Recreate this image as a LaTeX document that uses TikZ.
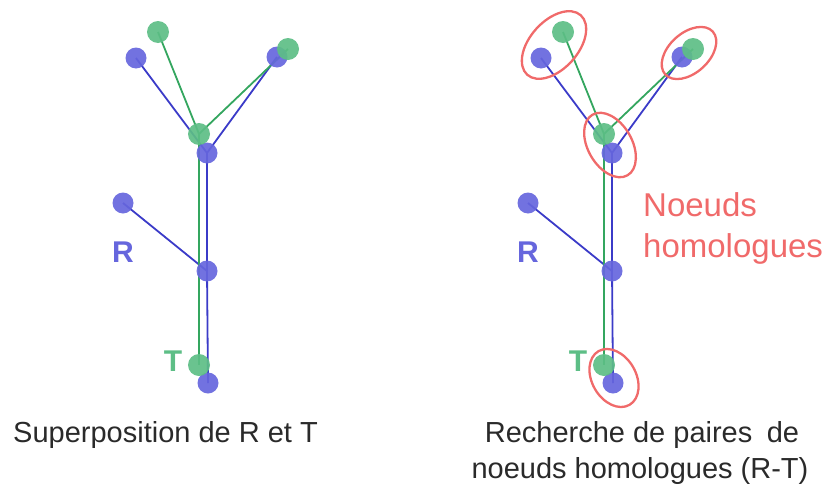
\documentclass[tikz,border=0pt]{standalone}
\usepackage{fontspec}
\setmainfont{Liberation Sans}
\usetikzlibrary{backgrounds}
\definecolor{bfill}{HTML}{6666DD}
\definecolor{bline}{HTML}{3B3BC8}
\definecolor{gfill}{HTML}{5DBE86}
\definecolor{gline}{HTML}{34A65F}
\definecolor{redc}{HTML}{F06A6A}
\definecolor{capc}{HTML}{2A2A2A}
\tikzset{
  bnode/.style={circle,fill=bfill,fill opacity=0.92,inner sep=0pt,minimum size=21pt},
  gnode/.style={circle,fill=gfill,fill opacity=0.92,inner sep=0pt,minimum size=22pt},
  bedge/.style={draw=bline,line width=1.8pt},
  gedge/.style={draw=gline,line width=1.8pt},
  pairring/.style={draw=redc,line width=2.3pt},
  lblR/.style={text=bfill,font=\fontsize{30}{36}\selectfont\bfseries,inner sep=0pt,anchor=base},
  lblT/.style={text=gfill,font=\fontsize{30}{36}\selectfont\bfseries,inner sep=0pt,anchor=base},
  capt/.style={text=capc,font=\fontsize{29}{35}\selectfont,inner sep=0pt},
  redtxt/.style={text=redc,font=\fontsize{33}{40}\selectfont,inner sep=0pt,anchor=base west}
}
\newcommand\rtdrawtree[2]{%
\begin{scope}[xshift=#2]
  % blue tree R
  \node[bnode] (#1b1) at (136,58) {};
  \node[bnode] (#1b2) at (277,57) {};
  \node[bnode] (#1bj) at (207,153) {};
  \node[bnode] (#1b4) at (123,203) {};
  \node[bnode] (#1b5) at (207,271) {};
  \node[bnode] (#1b6) at (208,383) {};
  % green tree T
  \node[gnode] (#1g1) at (158,32) {};
  \node[gnode] (#1g2) at (288,49) {};
  \node[gnode] (#1gj) at (199,134) {};
  \node[gnode] (#1g6) at (199,365) {};
  \begin{scope}[on background layer]
    \draw[bedge] (#1bj.center) -- (#1b1.center);
    \draw[bedge] (#1bj.center) -- (#1b2.center);
    \draw[bedge] (#1bj.center) -- (#1b5.center);
    \draw[bedge] (#1b5.center) -- (#1b4.center);
    \draw[bedge] (#1b5.center) -- (#1b6.center);
    \draw[gedge] (#1gj.center) -- (#1g1.center);
    \draw[gedge] (#1gj.center) -- (#1g2.center);
    \draw[gedge] (#1gj.center) -- (#1g6.center);
  \end{scope}
  \node[lblR] (#1R) at (123,262) {R};
  \node[lblT] (#1T) at (173,371) {T};
\end{scope}}
\begin{document}
\begin{tikzpicture}[x=1pt,y=-1pt]
\useasboundingbox (0,0) rectangle (830,490);
\rtdrawtree{L}{0}
\rtdrawtree{R}{405}
% homologous pairs
\draw[pairring,rotate around={48:(554,45)}] (554,45) ellipse [x radius=40,y radius=24];
\draw[pairring,rotate around={42:(689,53)}] (689,53) ellipse [x radius=32,y radius=20];
\draw[pairring,rotate around={-60:(610,145)}] (610,145) ellipse [x radius=35,y radius=22];
\draw[pairring,rotate around={-60:(614,378)}] (614,378) ellipse [x radius=31,y radius=22];
\node[redtxt] (n1) at (643,216) {Noeuds};
\node[redtxt] (n2) at (643,257) {homologues};
% captions
\node[capt,anchor=base west] (c1) at (13,442) {Superposition de R et T};
\node[capt,anchor=base] (c2) at (642,442) {Recherche de paires\hspace{0.5em}de};
\node[capt,anchor=base] (c3) at (640,478) {noeuds homologues (R-T)};
\end{tikzpicture}
\end{document}
